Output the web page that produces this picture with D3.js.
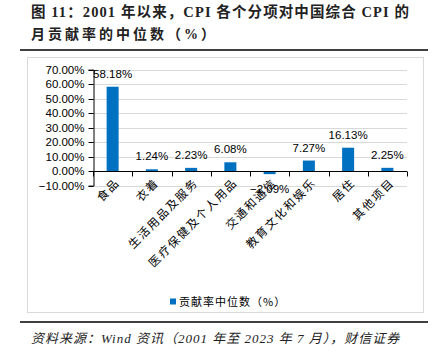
<!DOCTYPE html>
<html><head><meta charset="utf-8">
<script src="https://cdn.jsdelivr.net/npm/d3@7"></script>
<style>
body{margin:0;background:#fff;}
svg{display:block;}
</style></head>
<body>
<svg id="c" width="436" height="355"></svg>
<script>
const categories = ["食品","衣着","生活用品及服务","医疗保健及个人用品","交通和通信","教育文化和娱乐","居住","其他项目"];
const values = [58.18, 1.24, 2.23, 6.08, -2.09, 7.27, 16.13, 2.25];
const yTicks = [-10, 0, 10, 20, 30, 40, 50, 60, 70];
const seriesName = "贡献率中位数（%）";
const titleLines = ["图 11：2001 年以来，CPI 各个分项对中国综合 CPI 的", "月贡献率的中位数（%）"];
const sourceText = "资料来源：Wind 资讯（2001 年至 2023 年 7 月），财信证券";

const svg = d3.select("#c");
const blue = "#0070C0";
const numFont = "'Liberation Sans', Arial, sans-serif";
const cjkFont = "'Noto Sans CJK SC', sans-serif";

// Title
const tfont = "'Liberation Serif', 'Noto Sans CJK SC', serif";
svg.append("text").attr("x", 31).attr("y", 17).attr("font-family", tfont)
  .attr("font-weight", "bold").attr("font-size", 14.5).attr("letter-spacing", 1.1).attr("fill", "#222").text(titleLines[0]);
svg.append("text").attr("x", 31).attr("y", 39).attr("font-family", tfont)
  .attr("font-weight", "bold").attr("font-size", 14).attr("letter-spacing", 3).attr("fill", "#222").text(titleLines[1]);
svg.append("line").attr("x1", 20).attr("x2", 428).attr("y1", 50).attr("y2", 50)
  .attr("stroke", "#404040").attr("stroke-width", 2);

// Chart box
svg.append("rect").attr("x", 27.5).attr("y", 57.5).attr("width", 396).attr("height", 255)
  .attr("fill", "#fff").attr("stroke", "#d9d9d9").attr("stroke-width", 1);

const x = d3.scaleBand().domain(categories).range([93, 407]).paddingInner(0.694).paddingOuter(0.347);
const y = d3.scaleLinear().domain([-10, 70]).range([185.6, 69.6]);

// gridlines
svg.append("g").selectAll("line").data(yTicks.filter(d => d !== 0)).join("line")
  .attr("x1", 93).attr("x2", 407).attr("y1", d => Math.round(y(d)) + 0.5).attr("y2", d => Math.round(y(d)) + 0.5)
  .attr("stroke", "#d9d9d9").attr("stroke-width", 1);

// y axis
const yAxis = d3.axisLeft(y).tickValues(yTicks).tickSize(5).tickFormat(d => d3.format(".2f")(d) + "%");
const gy = svg.append("g").attr("transform", "translate(93.5,0)").call(yAxis);
gy.select(".domain").attr("stroke", "#000");
gy.selectAll(".tick line").attr("stroke", "#000");
gy.selectAll(".tick text").attr("font-family", numFont).attr("font-size", 11.5).attr("fill", "#000").attr("x", -9);
gy.selectAll(".tick").attr("transform", d => `translate(0,${Math.round(y(d)) + 0.5})`);

// bars
svg.append("g").selectAll("rect").data(values).join("rect")
  .attr("x", (d, i) => x(categories[i]))
  .attr("width", x.bandwidth())
  .attr("y", d => y(Math.max(0, d)))
  .attr("height", d => Math.abs(y(d) - y(0)))
  .attr("fill", blue);

// x axis at zero
const y0 = Math.round(y(0)) + 0.5;
svg.append("line").attr("x1", 93).attr("x2", 407).attr("y1", y0).attr("y2", y0).attr("stroke", "#000");
const step = x.step();
svg.append("g").selectAll("line").data(d3.range(categories.length + 1)).join("line")
  .attr("x1", i => Math.round(93 + i * step) + 0.5).attr("x2", i => Math.round(93 + i * step) + 0.5)
  .attr("y1", y0).attr("y2", y0 + 5).attr("stroke", "#000");

// x labels
svg.append("g").selectAll("text").data(categories).join("text")
  .attr("transform", d => `translate(${x(d) + x.bandwidth() / 2 + 5},${y0 + 9}) rotate(-45)`)
  .attr("text-anchor", "end").attr("dy", "0.35em")
  .attr("font-family", cjkFont).attr("font-size", 11.5).attr("letter-spacing", 1.8).attr("fill", "#000")
  .text(d => d);

// data labels
svg.append("g").selectAll("text").data(values).join("text")
  .attr("x", (d, i) => x(categories[i]) + x.bandwidth() / 2)
  .attr("y", d => d >= 0 ? y(d) - 9 : y(d) + 19)
  .attr("text-anchor", "middle")
  .attr("font-family", numFont).attr("font-size", 11.5).attr("fill", "#000")
  .text(d => d3.format(".2f")(d) + "%");

// legend
svg.append("rect").attr("x", 170).attr("y", 298.5).attr("width", 6).attr("height", 6).attr("fill", blue);
svg.append("text").attr("x", 179).attr("y", 306).attr("font-family", cjkFont).attr("font-size", 11)
  .attr("letter-spacing", 1).attr("fill", "#000").text(seriesName);

// bottom rule and source
svg.append("line").attr("x1", 20).attr("x2", 428).attr("y1", 322).attr("y2", 322)
  .attr("stroke", "#404040").attr("stroke-width", 2);
svg.append("text").attr("x", 31).attr("y", 343).attr("font-family", "'Liberation Serif', 'Noto Sans CJK SC', serif")
  .attr("font-style", "italic").attr("font-size", 13).attr("letter-spacing", 1).attr("fill", "#222").text(sourceText);
</script>
</body></html>
